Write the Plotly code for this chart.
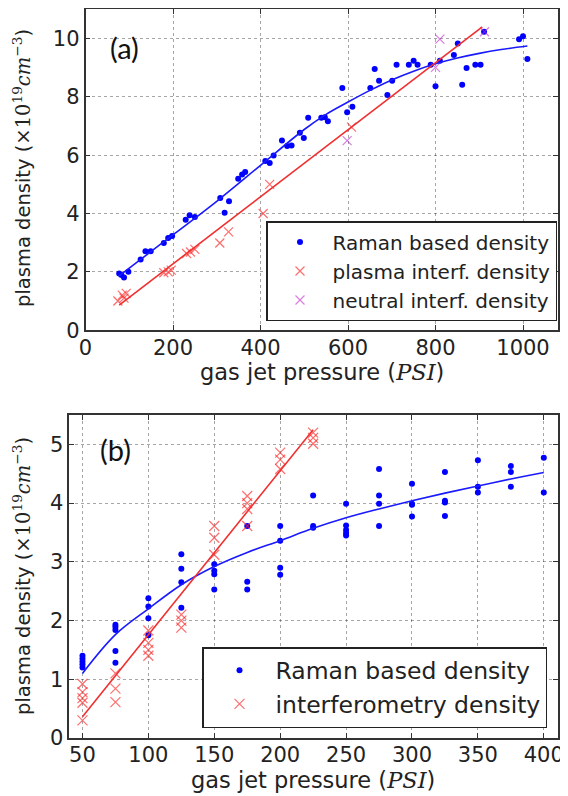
import plotly.graph_objects as go

# ---------------- Panel (a) data ----------------
a_raman_x = [77, 82, 88, 98, 126, 137, 149, 179, 189, 198, 229, 238, 250, 308, 318, 328,
             349, 358, 365, 411, 421, 430, 449, 461, 471, 490, 499, 509, 539, 547, 554,
             587, 598, 610, 651, 661, 671, 690, 701, 711, 739, 750, 759, 789, 800, 810,
             842, 851, 861, 871, 891, 903, 911, 991, 1000, 1010]
a_raman_y = [1.94, 1.89, 1.81, 2.00, 2.42, 2.71, 2.71, 2.99, 3.16, 3.23, 3.79, 3.94, 3.88,
             4.53, 4.03, 4.42, 5.19, 5.34, 5.42, 5.80, 5.73, 5.99, 6.50, 6.31, 6.33, 6.77,
             6.59, 7.28, 7.28, 7.30, 7.16, 8.30, 7.47, 7.66, 8.30, 8.95, 8.55, 8.06, 8.55,
             9.10, 9.10, 9.24, 9.10, 9.10, 8.36, 9.24, 9.43, 9.83, 8.41, 8.99, 9.10, 9.10,
             10.23, 9.97, 10.08, 9.30]
a_plasma_x = [74, 84, 88, 93, 179, 189, 196, 231, 240, 250, 307, 327, 406, 421, 608]
a_plasma_y = [1.00, 1.20, 1.10, 1.26, 1.97, 2.00, 2.06, 2.63, 2.68, 2.77, 2.99, 3.37, 4.00, 5.00, 6.96]
a_neutral_x = [598, 800, 810, 912]
a_neutral_y = [6.50, 9.01, 9.98, 10.23]
a_raman_fit_x = [76, 150, 200, 300, 400, 500, 550, 600, 650, 700, 750, 800, 850, 900, 950, 1010]
a_raman_fit_y = [1.85, 2.70, 3.27, 4.42, 5.65, 6.88, 7.40, 7.82, 8.22, 8.58, 8.88, 9.13, 9.33, 9.49, 9.62, 9.74]
a_interf_fit_x = [77, 907]
a_interf_fit_y = [0.86, 10.40]

# ---------------- Panel (b) data ----------------
b_raman_x = [50]*5 + [75]*5 + [100]*4 + [125]*4 + [150]*4 + [175]*3 + [200]*4 + [225]*3 + \
            [250]*5 + [275]*4 + [300]*4 + [325]*4 + [350]*3 + [375]*3 + [400]*2
b_raman_y = [1.40, 1.35, 1.30, 1.25, 1.20,
             1.93, 1.89, 1.84, 1.48, 1.28,
             2.38, 2.24, 2.04, 1.75,
             3.13, 2.88, 2.65, 2.22,
             2.96, 2.85, 2.79, 2.53,
             3.61, 2.66, 2.53,
             3.61, 3.36, 2.90, 2.78,
             4.13, 3.61, 3.58,
             3.99, 3.62, 3.54, 3.49, 3.45,
             4.58, 4.13, 3.99, 3.61,
             4.33, 3.99, 3.97, 3.77,
             4.53, 4.04, 4.01, 3.78,
             4.73, 4.28, 4.18,
             4.63, 4.53, 4.28,
             4.77, 4.18]
b_interf_x = [50]*5 + [75]*3 + [100]*4 + [125]*3 + [150]*3 + [175]*4 + [200]*3 + [225]*3
b_interf_y = [0.92, 0.78, 0.68, 0.60, 0.30,
              1.10, 0.84, 0.61,
              1.83, 1.62, 1.50, 1.40,
              2.10, 2.00, 1.88,
              3.61, 3.41, 3.12,
              4.12, 4.00, 3.90, 3.61,
              4.86, 4.74, 4.58,
              5.20, 5.11, 5.01]
b_raman_fit_x = [50, 75, 100, 125, 150, 175, 200, 225, 250, 275, 300, 325, 350, 375, 400]
b_raman_fit_y = [1.10, 1.76, 2.20, 2.61, 2.92, 3.16, 3.36, 3.57, 3.75, 3.90, 4.04, 4.17, 4.29, 4.41, 4.52]
b_interf_fit_x = [50, 225]
b_interf_fit_y = [0.36, 5.25]

a_xticks = [0, 200, 400, 600, 800, 1000]
a_yticks = [0, 2, 4, 6, 8, 10]
b_xticks = [50, 100, 150, 200, 250, 300, 350, 400]
b_yticks = [0, 1, 2, 3, 4, 5]

x_label = "gas jet pressure (<span style='font-family:DejaVu Serif'><i>PSI</i></span>)"
y_label = ("plasma density (<span style='font-family:DejaVu Serif'>×10<sup>19</sup>"
           "<i>cm</i><sup>−3</sup></span>)")

BLUE = "#0000ff"
RED = "rgba(255,30,30,0.65)"
PURPLE = "rgba(190,40,200,0.6)"

# The page body has an 8px default margin: the figure is sized/positioned to compensate.
OFF = 8
W, H = 568 - OFF, 796 - OFF


def fx(p):
    return (p - OFF) / W


def fy(p):
    return 1 - (p - OFF) / H


fig = go.Figure()

# Panel (a)
fig.add_trace(go.Scatter(x=a_raman_x, y=a_raman_y, mode="markers", name="Raman based density",
                         marker=dict(color=BLUE, size=6), xaxis="x", yaxis="y", legend="legend"))
fig.add_trace(go.Scatter(x=a_plasma_x, y=a_plasma_y, mode="markers", name="plasma interf. density",
                         marker=dict(symbol="x-thin", size=9, line=dict(color=RED, width=1.2)),
                         xaxis="x", yaxis="y", legend="legend"))
fig.add_trace(go.Scatter(x=a_neutral_x, y=a_neutral_y, mode="markers", name="neutral interf. density",
                         marker=dict(symbol="x-thin", size=9, line=dict(color=PURPLE, width=1.2)),
                         xaxis="x", yaxis="y", legend="legend"))
fig.add_trace(go.Scatter(x=a_raman_fit_x, y=a_raman_fit_y, mode="lines",
                         line=dict(color="#1a1aff", width=1.6, shape="spline"),
                         showlegend=False, xaxis="x", yaxis="y"))
fig.add_trace(go.Scatter(x=a_interf_fit_x, y=a_interf_fit_y, mode="lines",
                         line=dict(color="#f03030", width=1.6),
                         showlegend=False, xaxis="x", yaxis="y"))

# Panel (b)
fig.add_trace(go.Scatter(x=b_raman_x, y=b_raman_y, mode="markers", name="Raman based density",
                         marker=dict(color=BLUE, size=6), xaxis="x2", yaxis="y2", legend="legend2"))
fig.add_trace(go.Scatter(x=b_interf_x, y=b_interf_y, mode="markers", name="interferometry density",
                         marker=dict(symbol="x-thin", size=10, line=dict(color=RED, width=1.2)),
                         xaxis="x2", yaxis="y2", legend="legend2"))
fig.add_trace(go.Scatter(x=b_raman_fit_x, y=b_raman_fit_y, mode="lines",
                         line=dict(color="#1a1aff", width=1.6, shape="spline"),
                         showlegend=False, xaxis="x2", yaxis="y2"))
fig.add_trace(go.Scatter(x=b_interf_fit_x, y=b_interf_fit_y, mode="lines",
                         line=dict(color="#f03030", width=1.6),
                         showlegend=False, xaxis="x2", yaxis="y2"))

axis_common = dict(showline=True, linecolor="#333", linewidth=1.5, mirror="ticks",
                   ticks="inside", ticklen=5, tickwidth=1, tickcolor="#333",
                   showgrid=True, gridcolor="rgba(0,0,0,0.35)", griddash="dot", gridwidth=1,
                   zeroline=False, tickfont=dict(size=21, color="#222"),
                   automargin=False, ticklabeloverflow="allow")

title_font = dict(family="DejaVu Sans", size=22.5, color="#222")
ytitle_font = dict(family="DejaVu Sans", size=19.5, color="#222")
label_font = dict(family="Lato", size=29, color="#111")


def note(text, x, y, font, angle=0):
    return dict(text=text, x=fx(x), y=fy(y), xref="paper", yref="paper", showarrow=False,
                xanchor="center", yanchor="middle", textangle=angle, font=font)


fig.update_layout(
    width=W, height=H, margin=dict(l=0, r=0, t=0, b=0, autoexpand=False),
    plot_bgcolor="white", paper_bgcolor="white",
    font=dict(family="DejaVu Sans", color="#222"),
    xaxis=dict(axis_common, domain=[fx(85.5), fx(558)], range=[0, 1080], tickvals=a_xticks,
               anchor="y", ticklabelstandoff=-2),
    yaxis=dict(axis_common, domain=[fy(330.2), fy(9.3)], range=[0, 11], tickvals=a_yticks, anchor="x"),
    xaxis2=dict(axis_common, domain=[fx(69.3), fx(557.5)], range=[40, 410.4], tickvals=b_xticks,
                anchor="y2", ticklabelstandoff=-3),
    yaxis2=dict(axis_common, domain=[fy(738), fy(415)], range=[0, 5.5], tickvals=b_yticks, anchor="x2"),
    legend=dict(x=fx(557), xanchor="right", y=fy(321), yanchor="bottom",
                bgcolor="white", bordercolor="#222", borderwidth=1.5,
                font=dict(size=20, color="#222"), itemwidth=55, tracegroupgap=0),
    legend2=dict(x=fx(547), xanchor="right", y=fy(728), yanchor="bottom",
                 bgcolor="white", bordercolor="#222", borderwidth=1.5,
                 font=dict(size=23.5, color="#222"), itemwidth=62, tracegroupgap=0),
    annotations=[
        note("(a)", 124, 47.5, label_font),
        note("(b)", 115, 450, label_font),
        note(x_label, 322, 372, title_font),
        note(x_label, 313, 780, title_font),
        note(y_label, 22, 168, ytitle_font, -90),
        note(y_label, 22, 576, ytitle_font, -90),
    ],
)

fig.write_html("out.html")
